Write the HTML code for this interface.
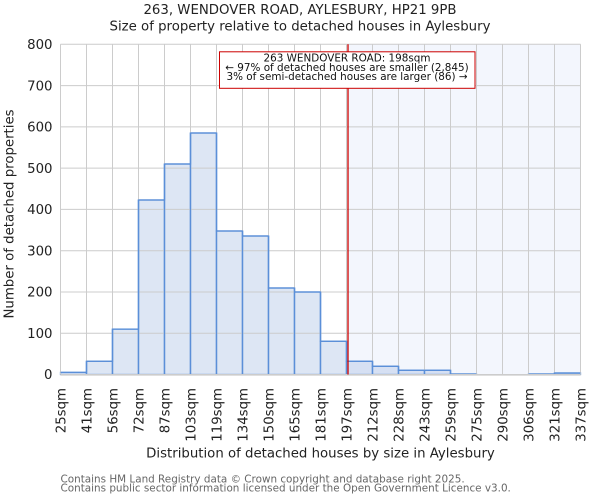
<!DOCTYPE html>
<html><head><meta charset="utf-8"><style>
html,body{margin:0;padding:0;background:#fff;}
svg{display:block;font-family:"DejaVu Sans","Liberation Sans",sans-serif;}
</style></head><body>
<svg width="600" height="500" viewBox="0 0 600 500" xmlns="http://www.w3.org/2000/svg">
<rect x="0" y="0" width="600" height="500" fill="#fff"/>
<text x="300" y="14" font-size="13.3" text-anchor="middle" fill="#222">263, WENDOVER ROAD, AYLESBURY, HP21 9PB</text>
<text x="300" y="30.5" font-size="13.3" text-anchor="middle" fill="#222">Size of property relative to detached houses in Aylesbury</text>
<!-- shaded region -->
<rect x="348" y="44.3" width="232.5" height="330.2" fill="#f3f6fd"/>
<!-- bars -->
<g fill="#dde6f4" stroke="#5b8fd8" stroke-width="1.3">
<rect x="60.5" y="372.4" width="26" height="2.1"/>
<rect x="86.5" y="361.3" width="26" height="13.2"/>
<rect x="112.5" y="329.1" width="26" height="45.4"/>
<rect x="138.5" y="200" width="26" height="174.5"/>
<rect x="164.5" y="164" width="26" height="210.5"/>
<rect x="190.5" y="133" width="26" height="241.5"/>
<rect x="216.5" y="231" width="26" height="143.5"/>
<rect x="242.5" y="236" width="26" height="138.5"/>
<rect x="268.5" y="288" width="26" height="86.5"/>
<rect x="294.5" y="292" width="26" height="82.5"/>
<rect x="320.5" y="341.3" width="26" height="33.2"/>
</g>
<g fill="#d6e0f3" stroke="#5b8fd8" stroke-width="1.3">
<rect x="346.5" y="361.3" width="26" height="13.2"/>
<rect x="372.5" y="366.3" width="26" height="8.2"/>
<rect x="398.5" y="370.3" width="26" height="4.2"/>
<rect x="424.5" y="370.3" width="26" height="4.2"/>
<rect x="450.5" y="374" width="26" height="0.5"/>
<rect x="528.5" y="374" width="26" height="0.5"/>
<rect x="554.5" y="373" width="26" height="1.5"/>
</g>
<!-- grid -->
<g stroke="#cccccc" stroke-width="1">
<line x1="60.5" y1="44.3" x2="580.5" y2="44.3"/>
<line x1="60.5" y1="85.6" x2="580.5" y2="85.6"/>
<line x1="60.5" y1="126.9" x2="580.5" y2="126.9"/>
<line x1="60.5" y1="168.1" x2="580.5" y2="168.1"/>
<line x1="60.5" y1="209.4" x2="580.5" y2="209.4"/>
<line x1="60.5" y1="250.7" x2="580.5" y2="250.7"/>
<line x1="60.5" y1="292.0" x2="580.5" y2="292.0"/>
<line x1="60.5" y1="333.2" x2="580.5" y2="333.2"/>
<line x1="60.5" y1="44.3" x2="60.5" y2="374.5"/>
<line x1="86.5" y1="44.3" x2="86.5" y2="374.5"/>
<line x1="112.5" y1="44.3" x2="112.5" y2="374.5"/>
<line x1="138.5" y1="44.3" x2="138.5" y2="374.5"/>
<line x1="164.5" y1="44.3" x2="164.5" y2="374.5"/>
<line x1="190.5" y1="44.3" x2="190.5" y2="374.5"/>
<line x1="216.5" y1="44.3" x2="216.5" y2="374.5"/>
<line x1="242.5" y1="44.3" x2="242.5" y2="374.5"/>
<line x1="268.5" y1="44.3" x2="268.5" y2="374.5"/>
<line x1="294.5" y1="44.3" x2="294.5" y2="374.5"/>
<line x1="320.5" y1="44.3" x2="320.5" y2="374.5"/>
<line x1="346.5" y1="44.3" x2="346.5" y2="374.5"/>
<line x1="372.5" y1="44.3" x2="372.5" y2="374.5"/>
<line x1="398.5" y1="44.3" x2="398.5" y2="374.5"/>
<line x1="424.5" y1="44.3" x2="424.5" y2="374.5"/>
<line x1="450.5" y1="44.3" x2="450.5" y2="374.5"/>
<line x1="476.5" y1="44.3" x2="476.5" y2="374.5"/>
<line x1="502.5" y1="44.3" x2="502.5" y2="374.5"/>
<line x1="528.5" y1="44.3" x2="528.5" y2="374.5"/>
<line x1="554.5" y1="44.3" x2="554.5" y2="374.5"/>
<line x1="580.5" y1="44.3" x2="580.5" y2="374.5"/>
</g>
<!-- bar edges redrawn over grid -->
<g fill="none" stroke="#5b8fd8" stroke-width="1.3">
<path d="M60.5 372.4H86.5V361.3H112.5V329.1H138.5V200H164.5V164H190.5V133H216.5V231H242.5V236H268.5V288H294.5V292H320.5V341.3H346.5V361.3H372.5V366.3H398.5V370.3H450.5V374H476.5"/>
<path d="M86.5 361.3V374.5M112.5 329.1V374.5M138.5 200V374.5M164.5 164V374.5M190.5 133V374.5M216.5 133V374.5M242.5 231V374.5M268.5 236V374.5M294.5 288V374.5M320.5 292V374.5M346.5 341.3V374.5M372.5 361.3V374.5M398.5 366.3V374.5M424.5 370.3V374.5M450.5 370.3V374.5"/>
<path d="M528.5 374H554.5V373H580.5"/>
</g>
<line x1="60.5" y1="374.8" x2="580.5" y2="374.8" stroke="#cccccc" stroke-width="1.6"/>
<!-- red marker -->
<line x1="348" y1="44.3" x2="348" y2="374.5" stroke="#cc0000" stroke-width="1.3"/>
<rect x="219.5" y="51.8" width="255.5" height="36.5" fill="#fff" stroke="#cc0000" stroke-width="1"/>
<g font-size="10.4" text-anchor="middle" fill="#111">
<text x="347" y="61.5">263 WENDOVER ROAD: 198sqm</text>
<text x="347" y="70.8">← 97% of detached houses are smaller (2,845)</text>
<text x="347" y="80.1">3% of semi-detached houses are larger (86) →</text>
</g>
<!-- y ticks -->
<g font-size="13.3" text-anchor="end" fill="#222">
<text x="52.5" y="49">800</text>
<text x="52.5" y="90.3">700</text>
<text x="52.5" y="131.6">600</text>
<text x="52.5" y="172.8">500</text>
<text x="52.5" y="214.1">400</text>
<text x="52.5" y="255.4">300</text>
<text x="52.5" y="296.7">200</text>
<text x="52.5" y="337.9">100</text>
<text x="52.5" y="379.2">0</text>
</g>
<text transform="translate(13.5,214) rotate(-90)" font-size="13.3" text-anchor="middle" fill="#222">Number of detached properties</text>
<!-- x ticks -->
<g font-size="13.3" text-anchor="end" fill="#222">
<text transform="translate(65.3,388) rotate(-90)">25sqm</text>
<text transform="translate(91.3,388) rotate(-90)">41sqm</text>
<text transform="translate(117.3,388) rotate(-90)">56sqm</text>
<text transform="translate(143.3,388) rotate(-90)">72sqm</text>
<text transform="translate(169.3,388) rotate(-90)">87sqm</text>
<text transform="translate(195.3,388) rotate(-90)">103sqm</text>
<text transform="translate(221.3,388) rotate(-90)">119sqm</text>
<text transform="translate(247.3,388) rotate(-90)">134sqm</text>
<text transform="translate(273.3,388) rotate(-90)">150sqm</text>
<text transform="translate(299.3,388) rotate(-90)">165sqm</text>
<text transform="translate(325.3,388) rotate(-90)">181sqm</text>
<text transform="translate(351.3,388) rotate(-90)">197sqm</text>
<text transform="translate(377.3,388) rotate(-90)">212sqm</text>
<text transform="translate(403.3,388) rotate(-90)">228sqm</text>
<text transform="translate(429.3,388) rotate(-90)">243sqm</text>
<text transform="translate(455.3,388) rotate(-90)">259sqm</text>
<text transform="translate(481.3,388) rotate(-90)">275sqm</text>
<text transform="translate(507.3,388) rotate(-90)">290sqm</text>
<text transform="translate(533.3,388) rotate(-90)">306sqm</text>
<text transform="translate(559.3,388) rotate(-90)">321sqm</text>
<text transform="translate(585.3,388) rotate(-90)">337sqm</text>
</g>
<text x="320.5" y="457.5" font-size="13.3" text-anchor="middle" fill="#222">Distribution of detached houses by size in Aylesbury</text>
<g font-size="10.4" fill="#666">
<text x="60.5" y="482.5">Contains HM Land Registry data © Crown copyright and database right 2025.</text>
<text x="60.5" y="491.7">Contains public sector information licensed under the Open Government Licence v3.0.</text>
</g>
</svg>
</body></html>
